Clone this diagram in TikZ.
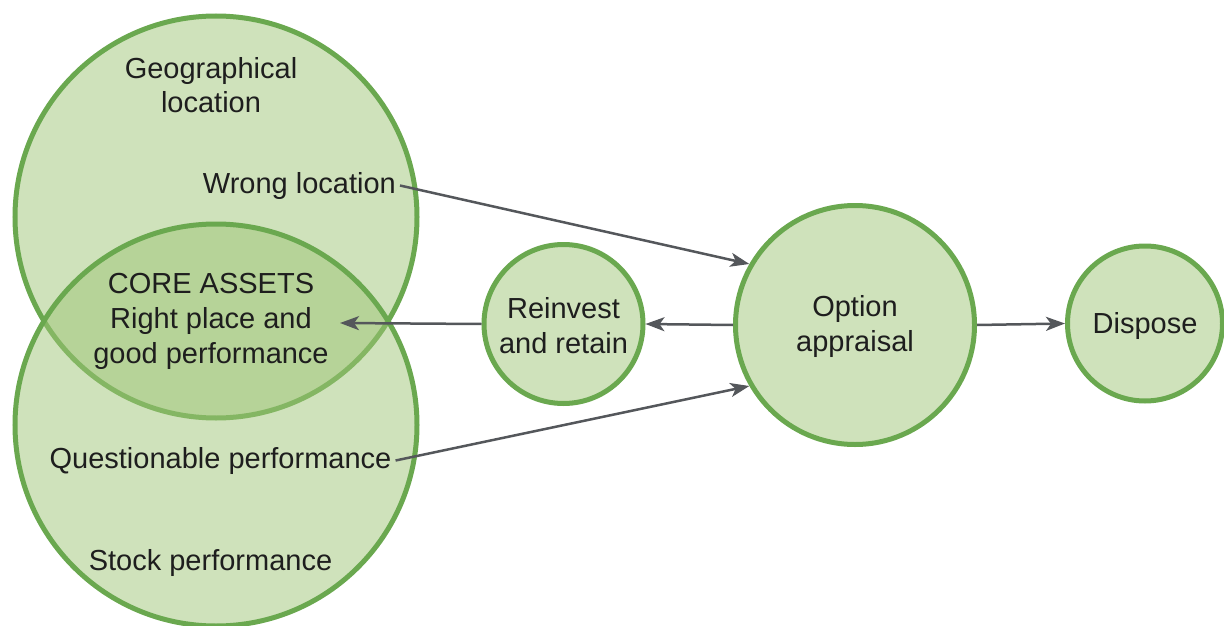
\documentclass[tikz,border=0pt]{standalone}
\usepackage{fontspec}
\setmainfont{Liberation Sans}
\usetikzlibrary{arrows.meta}
\definecolor{gstroke}{HTML}{6AA84F}
\definecolor{gfill}{HTML}{CFE2BB}
\definecolor{gover}{HTML}{9FC577}
\definecolor{garrow}{HTML}{54575B}
\definecolor{txt}{HTML}{1E1E1E}
\begin{document}
\begin{tikzpicture}[x=1pt,y=-1pt,
  font=\fontsize{29pt}{35pt}\selectfont, text=txt,
  bubble/.style={circle, draw=gstroke, line width=5pt, fill=gfill, inner sep=0pt, align=center},
  conn/.style={draw=garrow, line width=2.5pt, -{Stealth[length=19pt,width=14pt,inset=5pt]}},
  lbl/.style={inner sep=4pt, align=center}]
\useasboundingbox (0,0) rectangle (1224,626);
\clip (0,0) rectangle (1224,626);
% Venn circles
\node[bubble, minimum size=402pt] (geo) at (216,217) {};
\node[bubble, minimum size=402pt, fill=gover, fill opacity=0.5] (perf) at (216,425) {};
% process circles
\node[bubble, minimum size=159pt] (reinv) at (563.5,324) {\rule{0pt}{25pt}Reinvest\\and retain};
\node[bubble, minimum size=239pt] (opt) at (855,325) {\rule{0pt}{25pt}Option\\appraisal};
\node[bubble, minimum size=155pt, text height=27pt] (disp) at (1145,323.5) {Dispose};
% labels
\node[lbl, anchor=base] (geolbl) at (211,113) {Geographical\\location};
\node[lbl, anchor=base east] (wrong) at (400,193) {Wrong location};
\node[lbl, anchor=base] (core) at (211,363) {CORE ASSETS\\Right place and\\good performance};
\node[lbl, anchor=base] (quest) at (220.5,468) {Questionable performance};
\node[lbl, anchor=base] (stock) at (210.5,570) {Stock performance};
\coordinate (coretip) at (340,323);
% connectors
\draw[conn] (wrong.east) -- (opt.150);
\draw[conn] (quest.east) -- (opt.210);
\draw[conn] (reinv.west) -- (coretip);
\draw[conn] (opt.west) -- (reinv.east);
\draw[conn] (opt.east) -- (disp.west);
\end{tikzpicture}
\end{document}
